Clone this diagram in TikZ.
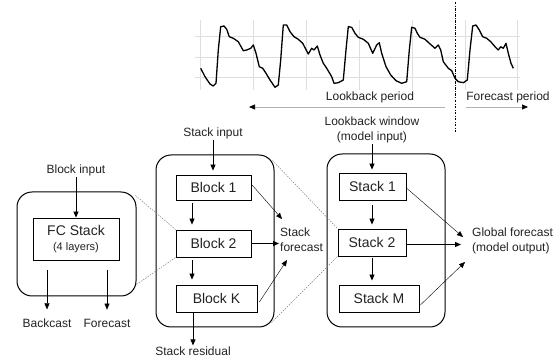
\documentclass[tikz,border=0pt]{standalone}
\usepackage{fontspec}
\setmainfont{Liberation Sans}
\usetikzlibrary{arrows.meta,calc}
\definecolor{txt}{HTML}{222222}
\definecolor{gridc}{HTML}{DEDEDE}
\begin{document}
\begin{tikzpicture}[x=1pt,y=-1pt,
 lbl/.style={font=\fontsize{12}{15}\selectfont, text=txt, inner sep=1pt, align=center},
 big/.style={draw, line width=1pt, rounded corners=15pt, inner sep=0pt},
 blk/.style={draw, line width=0.8pt, font=\fontsize{14}{16}\selectfont, text=txt, inner sep=0pt, minimum height=26pt},
 arr/.style={-{Triangle[length=6pt,width=5pt]}, line width=0.8pt},
 tarr/.style={-{Triangle[length=6pt,width=5pt]}, line width=0.4pt},
 harr/.style={-{Triangle[length=6pt,width=5pt]}, line width=1.2pt},
 zoomline/.style={gray, line width=0.5pt, dash pattern=on 1.5pt off 1.2pt},
 gline/.style={gridc, line width=0.6pt},
 parr/.style={gray!60, line width=0.7pt, -{Triangle[length=6pt,width=5pt,color=black]}}]
\useasboundingbox (0,0) rectangle (555,358);

% ---------- chart ----------
\foreach \gx in {200,253,306,359,412,465,517} \draw[gline] (\gx,20) -- (\gx,90);
\foreach \gy in {36,57,77} \draw[gline] (195,\gy) -- (520,\gy);
\draw[line width=1.3pt, line join=round] plot coordinates {
(200.7,68.3) (205,76.7) (210,84) (213.3,86) (216,83.3) (218.3,50) (220.7,26.7) (224,26) (226.7,29.3) (229.3,36.7) (233.3,38.3) (238.3,41.7) (243.3,50.7) (246.7,50) (250.7,48.3) (253.3,45) (256,53.3) (259.3,66.7) (262.7,68.3) (266,73.3) (270,80) (275,87.3) (278.3,85) (280.7,60) (283.3,25) (286.7,25) (290,31.7) (294,36.7) (298.3,39.3) (302.7,43.3) (308.3,54) (311.7,48.3) (314,50) (317.3,46) (320,55) (323.3,63.3) (326.7,68.3) (331.7,76.7) (334,83.3) (338.3,82.7) (343.3,80) (346,50) (348.3,26.7) (351.7,27.3) (355,33.3) (358.3,37.3) (363.3,39.3) (368.3,43.3) (372.7,53.3) (376.7,45) (379.3,42.7) (381.7,53.3) (386,66.7) (390.7,75) (396,80.7) (401.7,83.3) (406.7,81.7) (409.3,50) (411.7,27.3) (415,28.3) (417.3,33.3) (420,37.3) (425,39.3) (429.3,43.3) (435,48.3) (438.3,45) (440.7,50) (443.3,61.7) (448.3,68.3) (451.7,70.7) (455,78.3) (458.3,81.7) (463.3,82.7) (467.3,80) (470,50) (472.7,26) (476,25) (479.3,30) (482.7,36.7) (486.7,38.3) (490.7,41.7) (495,46.7) (498.3,50) (500.7,46.7) (503.3,48.3) (506,43.3) (508.3,53.3) (511,63.3) (513.3,68.3)};
\coordinate (divT) at (455,2);
\coordinate (divB) at (455,132);
\draw[line width=0.4pt, dash pattern=on 2.5pt off 1.5pt on 0.6pt off 1.5pt] (divT) -- (divB);
\node[lbl] (lbp) at (370,97) {Lookback period};
\node[lbl] (fcp) at (508,97) {Forecast period};
\coordinate (lbR) at (445,107);
\coordinate (lbL) at (249,107);
\coordinate (fpL) at (466,107);
\coordinate (fpR) at (528,107);
\draw[parr] (lbR) -- (lbL);
\draw[parr] (fpL) -- (fpR);

% ---------- big boxes ----------
\node[big, minimum width=119pt, minimum height=104pt] (lbox) at (76.5,244) {};
\node[big, minimum width=118pt, minimum height=172pt] (mbox) at (215,241) {};
\node[big, minimum width=118pt, minimum height=173pt] (rbox) at (386,240.5) {};

% ---------- left block ----------
\node[blk, minimum width=86pt, minimum height=42pt, align=center] (fc) at (76,239)
  {FC Stack\\[-1pt]{\fontsize{11}{13}\selectfont (4 layers)}};
\node[lbl] (bin) at (76,170) {Block input};
\node[lbl] (bc) at (47,323) {Backcast};
\node[lbl] (fo) at (107,323) {Forecast};
\draw[arr] (bin) -- (fc.north);
\draw[tarr, shorten <=10pt, shorten >=8pt] (fc.south -| bc.north) -- (bc.north);
\draw[tarr, shorten <=10pt, shorten >=8pt] (fc.south -| fo.north) -- (fo.north);

% ---------- middle stack ----------
\node[lbl] (sin) at (213,133) {Stack input};
\node[blk, minimum width=75pt, minimum height=25pt] (b1) at (213.5,187.5) {Block 1};
\node[blk, minimum width=75pt, minimum height=27pt] (b2) at (213.5,243.5) {Block 2};
\node[blk, minimum width=81pt, minimum height=27pt] (bK) at (216.5,298.5) {Block K};
\node[lbl, align=left, anchor=west] (sf) at (279,239.5) {Stack\\forecast};
\node[lbl] (res) at (193,351) {Stack residual};
\draw[arr, shorten >=4pt] (sin) -- (b1.north -| sin);
\draw[arr] ($(b1.south)+(-21.5,3)$) -- ($(b2.north)+(-21.5,-5)$);
\draw[arr] ($(b2.south)+(-21.5,3)$) -- ($(bK.north)+(-24.5,-5)$);
\draw[arr] ($(bK.south -| res)+(0,1)$) -- (res.north);
\coordinate (sf1) at (282,219);
\coordinate (sf3) at (287,260);
\draw[tarr] ($(b1.east)+(0.7,-2.5)$) -- (sf1);
\draw[harr] (b2.east) -- (b2.east -| sf.west);
\draw[tarr] ($(bK.east)+(2,3.5)$) -- (sf3);

% ---------- right model ----------
\node[lbl] (lw) at (372,129.5) {Lookback window\\(model input)};
\node[blk, minimum width=67pt, minimum height=27pt] (s1) at (372.5,186.5) {Stack 1};
\node[blk, minimum width=68pt, minimum height=27pt] (s2) at (372,242.5) {Stack 2};
\node[blk, minimum width=80pt, minimum height=27pt] (sM) at (379,298.5) {Stack M};
\node[lbl, align=left, anchor=west] (gf) at (471,241) {Global forecast\\(model output)};
\draw[arr, shorten >=3pt] (lw) -- (s1.north -| lw);
\draw[arr] ($(s1.south)+(-0.5,5)$) -- ($(s2.north)+(0,-4)$);
\draw[arr] ($(s2.south)+(0,2)$) -- ($(sM.north)+(-7,-4)$);
\coordinate (gf1) at (463,237);
\coordinate (gf2) at (461,244.5);
\coordinate (gf3) at (465,262);
\draw[tarr] ($(s1.east)+(0,1.5)$) -- (gf1);
\draw[harr] ($(s2.east)+(0,2)$) -- (gf2);
\draw[tarr] ($(sM.east)+(1,6.5)$) -- (gf3);

% ---------- dotted zoom connectors ----------
\draw[zoomline] ($(lbox.north east)+(-1,4)$) -- (b2.north west);
\draw[zoomline] ($(lbox.south east)+(0,-12)$) -- (b2.south west);
\draw[zoomline] ($(mbox.north east)+(-2,6)$) -- (s2.north west);
\draw[zoomline] ($(mbox.south east)+(-3,-5)$) -- (s2.south west);
\end{tikzpicture}
\end{document}
